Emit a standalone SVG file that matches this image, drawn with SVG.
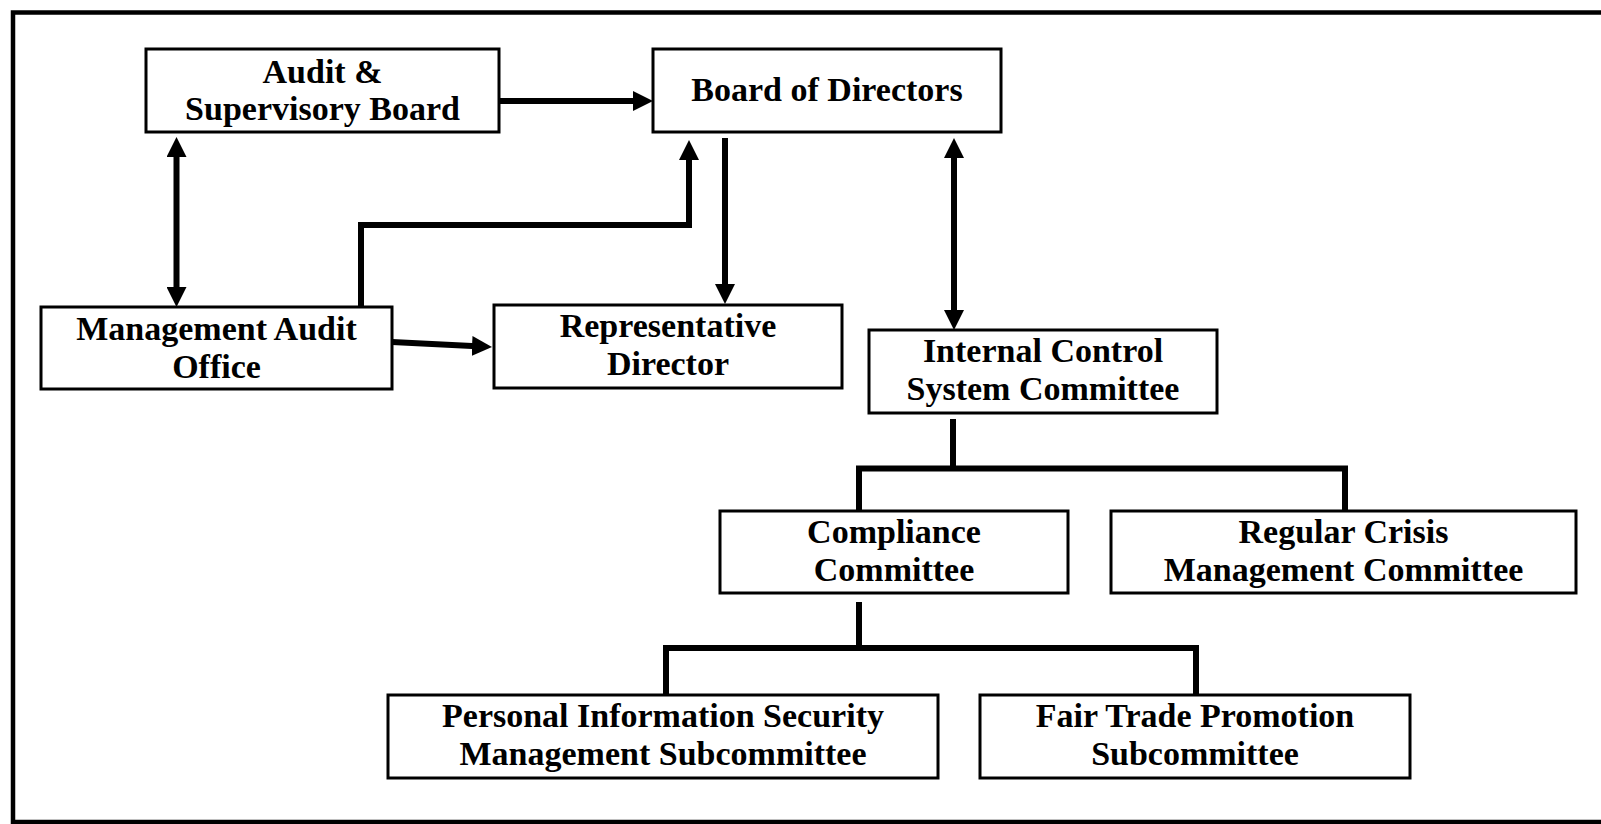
<svg xmlns="http://www.w3.org/2000/svg" width="1601" height="824" viewBox="0 0 1601 824">
<style>
.box{fill:#fff;stroke:#000;stroke-width:3}
.lbl{font-family:"Liberation Serif","Times New Roman",serif;font-weight:bold;font-size:34px;fill:#000;text-anchor:middle}
.con{fill:none;stroke:#000;stroke-width:6}
.arr{marker-end:url(#ah)}
.dbl{marker-start:url(#ah);marker-end:url(#ah)}
</style>
<defs>
<marker id="ah" viewBox="0 0 20 20" refX="10" refY="10" markerWidth="20" markerHeight="20" markerUnits="userSpaceOnUse" orient="auto-start-reverse">
<path d="M0,0 L20,10 L0,20 z" fill="#000"/>
</marker>
</defs>
<rect width="1601" height="824" fill="#fff"/>
<path d="M1605,12.5 H13 V822 H1605" fill="none" stroke="#000" stroke-width="4.5"/>

<g id="connectors">
<line class="con dbl" x1="176.5" y1="147" x2="176.5" y2="297"/>
<line class="con arr" x1="499" y1="101" x2="643" y2="101"/>
<path class="con arr" d="M361,307 V225 H689 V150"/>
<line class="con arr" x1="392" y1="342" x2="482" y2="346.5"/>
<line class="con arr" x1="725" y1="138" x2="725" y2="294"/>
<line class="con dbl" x1="954" y1="148" x2="954" y2="320"/>
<line class="con" x1="953" y1="419" x2="953" y2="466"/>
<path class="con" d="M859,511 V468.5 H1345 V511"/>
<line class="con" x1="859" y1="602" x2="859" y2="646"/>
<path class="con" d="M666,695 V648 H1196 V695"/>
</g>

<g id="audit-supervisory-board">
<rect class="box" x="146" y="49" width="353" height="83"/>
<text class="lbl" x="322.5" y="83">Audit &amp;</text>
<text class="lbl" x="322.5" y="120">Supervisory Board</text>
</g>
<g id="board-of-directors">
<rect class="box" x="653" y="49" width="348" height="83"/>
<text class="lbl" x="827" y="101">Board of Directors</text>
</g>
<g id="management-audit-office">
<rect class="box" x="41" y="307" width="351" height="82"/>
<text class="lbl" x="216.5" y="340">Management Audit</text>
<text class="lbl" x="216.5" y="378">Office</text>
</g>
<g id="representative-director">
<rect class="box" x="494" y="305" width="348" height="83"/>
<text class="lbl" x="668" y="337">Representative</text>
<text class="lbl" x="668" y="375">Director</text>
</g>
<g id="internal-control">
<rect class="box" x="869" y="330" width="348" height="83"/>
<text class="lbl" x="1043" y="362">Internal Control</text>
<text class="lbl" x="1043" y="400">System Committee</text>
</g>
<g id="compliance-committee">
<rect class="box" x="720" y="511" width="348" height="82"/>
<text class="lbl" x="894" y="543">Compliance</text>
<text class="lbl" x="894" y="581">Committee</text>
</g>
<g id="regular-crisis">
<rect class="box" x="1111" y="511" width="465" height="82"/>
<text class="lbl" x="1343.5" y="543">Regular Crisis</text>
<text class="lbl" x="1343.5" y="581">Management Committee</text>
</g>
<g id="personal-info">
<rect class="box" x="388" y="695" width="550" height="83"/>
<text class="lbl" x="663" y="727">Personal Information Security</text>
<text class="lbl" x="663" y="765">Management Subcommittee</text>
</g>
<g id="fair-trade">
<rect class="box" x="980" y="695" width="430" height="83"/>
<text class="lbl" x="1195" y="727">Fair Trade Promotion</text>
<text class="lbl" x="1195" y="765">Subcommittee</text>
</g>
</svg>
